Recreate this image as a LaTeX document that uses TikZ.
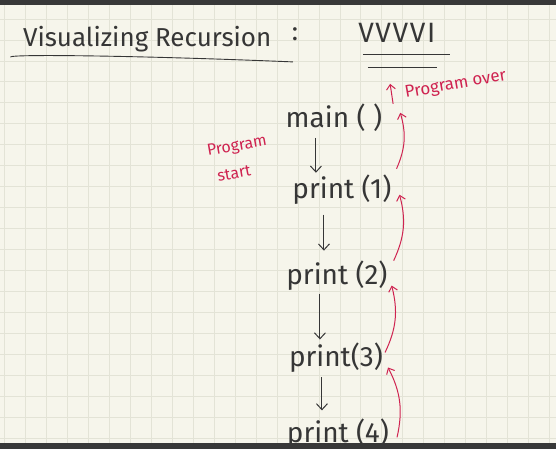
\documentclass[tikz,border=0pt]{standalone}
\usepackage{fontspec}
\setmainfont{Fira Sans}
\usepackage{tikz}
\usetikzlibrary{arrows.meta}
\definecolor{paper}{HTML}{F6F5EB}
\definecolor{gridcol}{HTML}{E3E3D6}
\definecolor{ink}{HTML}{363636}
\definecolor{pen}{HTML}{CF2350}
\definecolor{band}{HTML}{383838}
\tikzset{every node/.style={inner sep=0pt, text=ink},
  title/.style={font=\fontsize{26}{28}\selectfont},
  call/.style={font=\fontsize{28}{30}\selectfont},
  note/.style={text=pen, font=\fontsize{17}{19}\selectfont},
  gridline/.style={gridcol, line width=0.8pt},
  callarrow/.style={->, >={Straight Barb[length=6pt,width=11pt]}, ink, line width=1pt},
  backarrow/.style={->, >={Straight Barb[length=5pt,width=9pt]}, pen, line width=1pt}}

\begin{document}
\begin{tikzpicture}[x=1pt,y=-1pt]
      \fill[paper] (0,0) rectangle (556,450);
      \foreach \i in {0,...,26} \draw[gridline] ({4+21*\i},5) -- ({4+21*\i},444);
      \foreach \j in {0,...,20} \draw[gridline] (0,{19+21*\j}) -- (556,{19+21*\j});
      % heading
      \node[title] (head) at (147,39) {Visualizing Recursion};
      \node[title] (colon) at (295,34) {:};
      \draw[ink, line width=0.9pt] (10,57) .. controls (14,54) and (150,56) .. (293,62);
      \node[call, font=\fontsize{28}{30}\selectfont\addfontfeatures{LetterSpace=6}] (vvvvi) at (397,33) {VVVVI};
      \draw[ink, line width=0.9pt] (363,55) -- (450,55);
      \draw[ink, line width=0.9pt] (368,68) -- (437,68);
      % calls
      \node[call] (main) at (334,118) {main ( )};
      \node[call] (p1) at (342,190) {print (1)};
      \node[call] (p2) at (337,276) {print (2)};
      \node[call] (p3) at (336,358) {print(3)};
      \node[call] (p4) at (338,434) {print (4)};
      \draw[callarrow, shorten <=6pt, shorten >=2pt] ([xshift=-18pt]main.south) -- ([xshift=-26pt]p1.north);
      \draw[callarrow, shorten <=10pt, shorten >=10pt] ([xshift=-18pt]p1.south) -- ([xshift=-13pt]p2.north);
      \draw[callarrow, shorten <=3pt, shorten >=3pt] ([xshift=-17pt]p2.south) -- ([xshift=-16pt]p3.north);
      \draw[callarrow, shorten <=5pt, shorten >=8pt] ([xshift=-14pt]p3.south) -- ([xshift=-16pt]p4.north);
      % returns
      \draw[backarrow] ([shift={(8,4)}]p4.east) to[bend right=20] ([shift={(5,-5)}]p3.south east);
      \draw[backarrow] ([shift={(2,-5)}]p3.east) to[bend right=20] ([shift={(4,-5)}]p2.south east);
      \draw[backarrow] ([shift={(6,0)}]p2.north east) to[bend right=20] ([shift={(8,5)}]p1.east);
      \draw[backarrow] ([shift={(5,-6)}]p1.north east) to[bend right=20] ([shift={(18,-5)}]main.east);
      \node[note, rotate=10] (over) at (456,85) {Program over};
      \coordinate (top) at ([shift={(-12,10)}]over.west);
      \coordinate (topend) at ([shift={(-15,-10)}]over.west);
      \draw[backarrow] (top) -- (topend);
      \node[note, font=\fontsize{16}{18}\selectfont, rotate=10] (startA) at (237,147) {Program};
      \node[note, font=\fontsize{16}{18}\selectfont, rotate=10] (startB) at (234,174) {start};
      % screen edges
      \fill[band] (0,0) rectangle (556,5);
      \fill[band] (0,444) rectangle (556,450);
    \end{tikzpicture}
\end{document}
